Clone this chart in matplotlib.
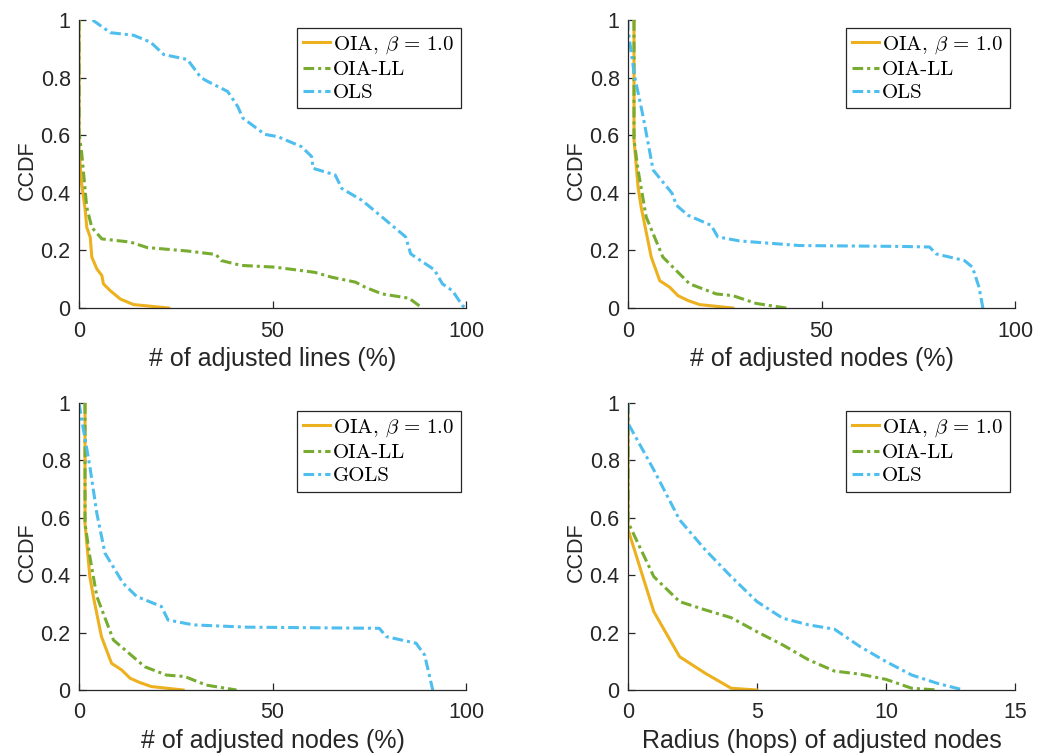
import matplotlib
matplotlib.use("Agg")
import matplotlib.pyplot as plt
from matplotlib.ticker import FuncFormatter

plt.rcParams['font.family'] = ['Liberation Sans', 'DejaVu Sans']
plt.rcParams['mathtext.fontset'] = 'cm'

# ================> Data
# top left : lines
tl_oia_x = [0, 0, 0.7, 1.6, 2.0, 2.9, 3.3, 4.6, 5.9, 6.3, 8.1, 10.7, 14.1, 23.2]
tl_oia_y = [1.0, 0.55, 0.43, 0.34, 0.28, 0.246, 0.177, 0.136, 0.113, 0.084, 0.06, 0.031, 0.012, 0.0]
tl_ll_x = [0, 0, 0.7, 2.0, 3.3, 5.9, 13.3, 17.6, 28.0, 35.4, 36.7, 41.9, 50.6, 60.9, 65.3, 71.4, 74.0, 78.3, 85.3, 88.7]
tl_ll_y = [1.0, 0.607, 0.537, 0.35, 0.28, 0.24, 0.229, 0.21, 0.198, 0.186, 0.165, 0.148, 0.142, 0.124, 0.107, 0.09, 0.072, 0.049, 0.034, 0.0]
tl_ols_x = [3.5, 8.1, 14.1, 18.5, 21.9, 28.0, 31.5, 33.2, 38.4, 41.0, 42.3, 48.0, 51.4, 57.5, 60.1, 60.5,
            66.2, 67.9, 73.1, 78.3, 84.4, 85.7, 91.8, 93.9, 96.5, 99.1, 100.0]
tl_ols_y = [1.0, 0.956, 0.947, 0.923, 0.88, 0.863, 0.80, 0.787, 0.752, 0.70, 0.66, 0.603, 0.595, 0.56, 0.526, 0.485,
            0.462, 0.415, 0.374, 0.316, 0.247, 0.188, 0.133, 0.084, 0.06, 0.008, 0.0]

# top right : nodes
tr_oia_x = [1.55, 1.55, 2.6, 3.4, 6.0, 8.2, 10.8, 12.9, 15.5, 18.5, 27.1]
tr_oia_y = [1.0, 0.584, 0.42, 0.35, 0.177, 0.095, 0.072, 0.043, 0.026, 0.012, 0.0]
tr_ll_x = [1.55, 1.55, 2.6, 4.7, 9.0, 15.9, 22.8, 27.1, 33.1, 40.9]
tr_ll_y = [1.0, 0.584, 0.479, 0.316, 0.177, 0.084, 0.049, 0.043, 0.016, 0.0]
tr_ols_x = [0, 0, 1.7, 3.9, 6.5, 11.4, 12.5, 15.5, 21.5, 23.2, 28.8, 44.3, 70.1, 77.9, 79.6, 86.9, 89.0, 90.7, 91.7]
tr_ols_y = [1.0, 0.967, 0.805, 0.665, 0.479, 0.398, 0.357, 0.322, 0.287, 0.247, 0.233, 0.217, 0.214, 0.212,
            0.188, 0.165, 0.142, 0.072, 0.0]

# bottom left : nodes (GOLS)
bl_oia_x = [1.55, 1.55, 2.8, 3.7, 5.8, 8.4, 11.0, 13.2, 15.7, 18.7, 26.9]
bl_oia_y = [1.0, 0.58, 0.395, 0.326, 0.186, 0.093, 0.07, 0.041, 0.026, 0.012, 0.0]
bl_ll_x = [1.55, 1.55, 2.8, 4.6, 8.9, 17.0, 22.6, 27.3, 32.9, 40.7]
bl_ll_y = [1.0, 0.58, 0.465, 0.326, 0.174, 0.081, 0.052, 0.047, 0.017, 0.0]
bl_gols_x = [0, 0.7, 2.8, 4.6, 6.7, 11.4, 14.9, 21.3, 23.0, 29.5, 43.3, 77.6, 79.4, 87.1, 89.3, 91.4]
bl_gols_y = [1.0, 0.942, 0.779, 0.616, 0.477, 0.372, 0.326, 0.291, 0.244, 0.227, 0.219, 0.215, 0.186, 0.163,
             0.122, 0.0]

# bottom right : radius (hops)
br_oia_x = [0, 0, 1, 2, 3, 4, 5]
br_oia_y = [1.0, 0.56, 0.273, 0.116, 0.058, 0.006, 0.0]
br_ll_x = [0, 0, 1, 2, 3, 4, 5, 6, 7, 8, 9, 10, 11, 12]
br_ll_y = [1.0, 0.585, 0.395, 0.308, 0.279, 0.252, 0.203, 0.157, 0.105, 0.066, 0.055, 0.037, 0.006, 0.0]
br_ols_x = [0, 0, 1, 2, 3, 4, 5, 6, 7, 8, 9, 10, 11, 12, 13]
br_ols_y = [1.0, 0.93, 0.767, 0.593, 0.488, 0.395, 0.308, 0.25, 0.227, 0.212, 0.151, 0.099, 0.052, 0.023, 0.0]

labels_oia = r'OIA, $\beta\,=\,1.0$'
labels_ll = 'OIA-LL'

_ORANGE = '#EDB120'
_GREEN = '#77AC30'
_BLUE = '#4DBEEE'
_DASHDOT = (0, (3.5, 1.3, 1.0, 1.3))
_AXCOLOR = '#262626'


def fmt_tick(v, pos):
    return ('%g' % round(v, 3))


def draw_panel(ax, oia, ll, third, third_name, xlim, xticks, xlabel):
    ax.plot(oia[0], oia[1], color=_ORANGE, lw=2.2, label=labels_oia)
    ax.plot(ll[0], ll[1], color=_GREEN, lw=2.2, ls=_DASHDOT, label=labels_ll)
    ax.plot(third[0], third[1], color=_BLUE, lw=2.2, ls=_DASHDOT, label=third_name)
    ax.set_xlim(xlim)
    ax.set_ylim(0, 1)
    ax.set_xticks(xticks)
    ax.set_yticks([0, 0.2, 0.4, 0.6, 0.8, 1])
    ax.xaxis.set_major_formatter(FuncFormatter(fmt_tick))
    ax.yaxis.set_major_formatter(FuncFormatter(fmt_tick))
    ax.spines['top'].set_visible(False)
    ax.spines['right'].set_visible(False)
    for s in ['left', 'bottom']:
        ax.spines[s].set_color(_AXCOLOR)
        ax.spines[s].set_linewidth(0.9)
    ax.tick_params(direction='in', length=5, width=0.9, colors=_AXCOLOR, labelsize=15.5)
    ax.tick_params(axis='x', pad=9)
    ax.tick_params(axis='y', pad=6)
    ax.set_xlabel(xlabel, fontsize=18, color=_AXCOLOR, labelpad=4)
    ax.set_ylabel('CCDF', fontsize=15.5, color=_AXCOLOR)
    ax.yaxis.set_label_coords(-0.107, 0.48)
    leg = ax.legend(loc='upper right', bbox_to_anchor=(0.986, 0.972), fancybox=False, framealpha=1,
                    edgecolor=_AXCOLOR, handlelength=1.3, handletextpad=0.15, borderpad=0.3,
                    labelspacing=0.22, borderaxespad=0,
                    prop={'family': 'cmr10', 'size': 15})
    leg.get_frame().set_linewidth(0.9)


if __name__ == "__main__":
    fig = plt.figure(figsize=(10.37, 7.55), dpi=100)
    w = 0.3732
    ax1 = fig.add_axes([0.0762, 0.592, w, 0.3815])
    ax2 = fig.add_axes([0.6056, 0.592, w, 0.3815])
    ax3 = fig.add_axes([0.0762, 0.0861, w, 0.380])
    ax4 = fig.add_axes([0.6056, 0.0861, w, 0.380])

    draw_panel(ax1, (tl_oia_x, tl_oia_y), (tl_ll_x, tl_ll_y), (tl_ols_x, tl_ols_y), 'OLS',
               (0, 100), [0, 50, 100], '# of adjusted lines (%)')
    draw_panel(ax2, (tr_oia_x, tr_oia_y), (tr_ll_x, tr_ll_y), (tr_ols_x, tr_ols_y), 'OLS',
               (0, 100), [0, 50, 100], '# of adjusted nodes (%)')
    draw_panel(ax3, (bl_oia_x, bl_oia_y), (bl_ll_x, bl_ll_y), (bl_gols_x, bl_gols_y), 'GOLS',
               (0, 100), [0, 50, 100], '# of adjusted nodes (%)')
    draw_panel(ax4, (br_oia_x, br_oia_y), (br_ll_x, br_ll_y), (br_ols_x, br_ols_y), 'OLS',
               (0, 15), [0, 5, 10, 15], 'Radius (hops) of adjusted nodes')

    fig.savefig('out.png', dpi=100)
